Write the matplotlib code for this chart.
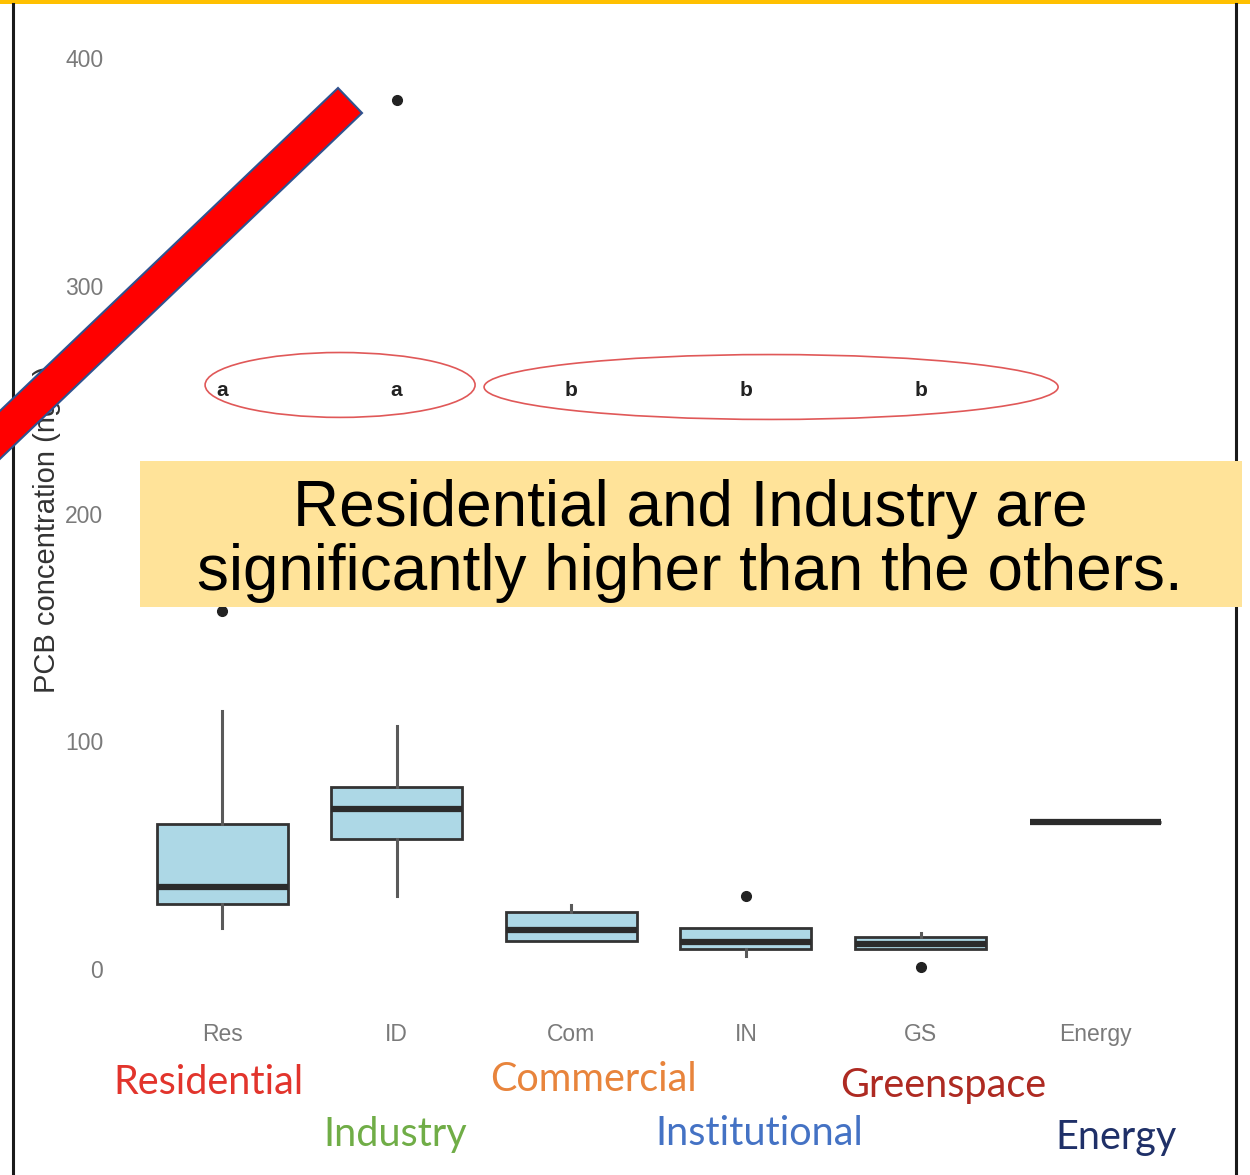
import matplotlib
matplotlib.use("Agg")
import matplotlib.pyplot as plt
from matplotlib.patches import Ellipse, Polygon, Rectangle

# Box plot summary (PCB concentration)
categories = ["Res", "ID", "Com", "IN", "GS", "Energy"]
whislo = [18.0, 32.0, 12.4, 5.7, 8.8, 64.6]
q1 = [28.5, 57.1, 12.4, 8.8, 8.8, 64.6]
med = [36.0, 70.3, 17.1, 12.0, 11.0, 64.6]
q3 = [63.7, 80.0, 25.2, 18.1, 13.9, 64.6]
whishi = [113.3, 106.8, 28.1, 18.1, 15.9, 64.6]
fliers = [[157.0], [381.6], [], [32.2], [1.0], []]

group_letters = ["a", "a", "b", "b", "b"]
letter_y = 254

land_use = ["Residential", "Industry", "Commercial", "Institutional", "Greenspace", "Energy"]
land_colors = ["#E2342C", "#70AD47", "#E8843C", "#4472C4", "#AE2A22", "#1F3068"]

W, H = 1250, 1175

plt.rcParams["font.family"] = ["Liberation Sans", "DejaVu Sans"]


def px(x, y):
    """Pixel position (from top-left) to figure fraction."""
    return x / W, 1 - y / H


fig = plt.figure(figsize=(W / 100, H / 100), dpi=100)
ax = fig.add_axes([0.0938, 0.1366, 0.8662, 0.8526])

stats = []
for i, name in enumerate(categories):
    stats.append(dict(label=name, whislo=whislo[i], q1=q1[i], med=med[i],
                      q3=q3[i], whishi=whishi[i], fliers=fliers[i]))

ax.bxp(stats, positions=range(1, len(categories) + 1), widths=0.75,
       patch_artist=True, showcaps=False,
       boxprops=dict(facecolor="#ADD8E6", edgecolor="#333333", linewidth=2.0),
       medianprops=dict(color="#2b2b2b", linewidth=4.5),
       whiskerprops=dict(color="#5a5a5a", linewidth=2.2),
       flierprops=dict(marker="o", markersize=7, markerfacecolor="#222222",
                       markeredgecolor="#222222"))

ax.set_xlim(0.4, 6.6)
ax.set_ylim(-20, 420)
ax.set_yticks([0, 100, 200, 300, 400])
for s in ax.spines.values():
    s.set_visible(False)
ax.tick_params(length=0, labelsize=16.5, labelcolor="#7a7a7a")
ax.tick_params(axis="x", pad=6)
ax.tick_params(axis="y", pad=10)
ax.set_ylabel("PCB concentration (ng/g)", fontsize=21, color="#333333")
ax.yaxis.set_label_coords(-0.052, 0.4846)

# significance letters
for i, letter in enumerate(group_letters):
    ax.text(i + 1, letter_y, letter, ha="center", va="center",
            fontsize=15, fontweight="bold", color="#222222")

# red ellipses grouping the letters
ax.add_patch(Ellipse((1.676, 256.5), 1.546, 28.5, fill=False,
                     edgecolor="#E05858", linewidth=1.2))
ax.add_patch(Ellipse((4.144, 255.6), 3.287, 28.5, fill=False,
                     edgecolor="#E05858", linewidth=1.2))

# slide decorations
fig.add_artist(Rectangle(px(0, 3.7), 1, 3.7 / H, transform=fig.transFigure,
                         facecolor="#FFC000", edgecolor="none", zorder=5))
for xl in (13, 1236):
    fig.add_artist(plt.Line2D([xl / W, xl / W], [0, 1 - 3.7 / H],
                              transform=fig.transFigure, color="#1a1a1a",
                              linewidth=2.2, zorder=5))

bar = [px(338, 88), px(362, 113), px(-40, 497), px(-64, 472)]
fig.add_artist(Polygon(bar, closed=True, transform=fig.transFigure,
                       facecolor="#FF0000", edgecolor="#2F528F",
                       linewidth=1.5, zorder=6))

bx, by = px(140, 607)
fig.add_artist(Rectangle((bx, by), 1102 / W, 146 / H, transform=fig.transFigure,
                         facecolor="#FFE399", edgecolor="none", zorder=7))
tx, ty = px(690, 541)
fig.text(tx, ty, "Residential and Industry are\nsignificantly higher than the others.",
         ha="center", va="center", fontsize=46, family="Liberation Sans",
         linespacing=1.08, color="black", zorder=8)

# land-use names under the tick labels
label_pos = [(208, 1094), (395, 1146), (593, 1091), (759, 1145), (943, 1097), (1116, 1149)]
for name, color, (x, y) in zip(land_use, land_colors, label_pos):
    fx, fy = px(x, y)
    fig.text(fx, fy, name, ha="center", va="baseline", fontsize=28.5,
             family="Lato", color=color)

fig.savefig("out.png", dpi=100)
